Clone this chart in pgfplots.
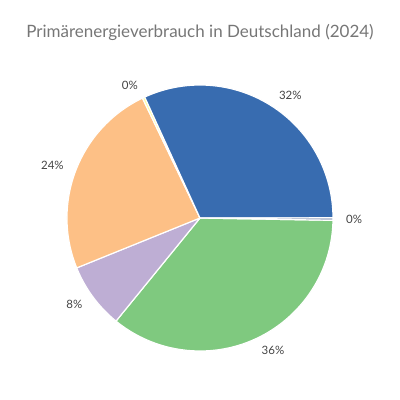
\documentclass[border=0pt]{standalone}
\usepackage{pgfplots}
\usepackage{pgfplotstable}
\pgfplotsset{compat=1.18}
\usepackage{fontspec}
\setmainfont{Lato}
\definecolor{cgreen}{HTML}{7FC97F}
\definecolor{cpurple}{HTML}{BEAED4}
\definecolor{corange}{HTML}{FDC086}
\definecolor{cyellow}{HTML}{FFFF99}
\definecolor{cblue}{HTML}{386CB0}
\definecolor{cgray}{HTML}{9DA9C4}
\definecolor{titlegray}{HTML}{767676}
\definecolor{labelgray}{HTML}{444444}
\pgfplotstableread{
value color
35.6 cgreen
8.0 cpurple
24.0 corange
0.3 cyellow
31.8 cblue
0.3 cgray
}\piedata
\begin{document}
\begin{tikzpicture}
\begin{axis}[
  scale only axis, width=400bp, height=400bp,
  xmin=0, xmax=400, ymin=0, ymax=400,
  hide axis, clip=false]
\addplot[draw=none, forget plot] coordinates {(0,0) (400,400)};
\pgfplotsextra{
  \path (axis cs:0,0) rectangle (axis cs:400,400);
  \node[text=titlegray, font=\fontsize{17bp}{20bp}\selectfont] at (axis cs:200,368) {Primärenergieverbrauch in Deutschland (2024)};
  \pgfplotstablegetrowsof{\piedata}
  \pgfmathtruncatemacro\N{\pgfplotsretval-1}
  \gdef\cum{-1}
  \foreach \i in {0,...,\N}{
    \pgfplotstablegetelem{\i}{value}\of\piedata \let\v\pgfplotsretval
    \pgfplotstablegetelem{\i}{color}\of\piedata \let\c\pgfplotsretval
    \pgfmathsetmacro\a{\cum}
    \pgfmathsetmacro\b{\cum-3.6*\v}
    \pgfmathsetmacro\m{(\a+\b)/2}
    \fill[fill=\c, draw=white, line width=1.2bp, line join=round]
      (axis cs:200,182) -- ++(\a:133bp) arc[start angle=\a, end angle=\b, radius=133bp] -- cycle;
    \pgfmathparse{cos(\m)>=0 ? "west" : "east"}
    \let\anc\pgfmathresult
    \path (axis cs:200,182) ++(\m:146bp) node[anchor=\anc, inner sep=0pt, text=labelgray, font=\fontsize{11.5bp}{13bp}\selectfont]
      {\pgfmathprintnumber[fixed, precision=0, assume math mode=true]{\v}\%};
    \xdef\cum{\b}
  }
}
\end{axis}
\end{tikzpicture}
\end{document}
